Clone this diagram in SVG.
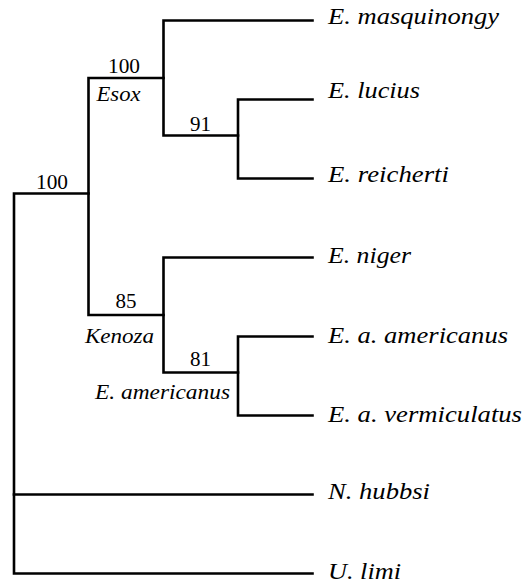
<svg xmlns="http://www.w3.org/2000/svg" width="529" height="584" viewBox="0 0 529 584">
  <style>
    .branch { fill: none; stroke: #000; stroke-width: 2.6; stroke-linecap: square; stroke-linejoin: miter; }
    text { font-family: "Liberation Serif", "Times New Roman", serif; fill: #000; }
    .taxon { font-style: italic; font-size: 23px; }
    .clade { font-style: italic; font-size: 20px; }
    .support { font-size: 20.5px; text-anchor: middle; }
  </style>
  <rect width="529" height="584" fill="#fff"/>

  <!-- tree branches -->
  <g id="connectors">
    <!-- root -->
    <path class="branch" d="M88.5,193.5 H14 V573.5 H312.5"/>
    <path class="branch" d="M14,494.5 H312.5"/>
    <!-- Esox + Kenoza -->
    <path class="branch" d="M163.5,78 H88.5 V315 H163.5"/>
    <!-- Esox -->
    <path class="branch" d="M312.5,20.5 H163.5 V135.5 H238"/>
    <path class="branch" d="M312.5,99.5 H238 V178.5 H312.5"/>
    <!-- Kenoza -->
    <path class="branch" d="M312.5,257.5 H163.5 V372.5 H238"/>
    <path class="branch" d="M312.5,336.5 H238 V415.5 H312.5"/>
  </g>

  <!-- terminal taxa -->
  <g id="E-masquinongy"><text class="taxon" x="328" y="24" textLength="171" lengthAdjust="spacingAndGlyphs">E. masquinongy</text></g>
  <g id="E-lucius"><text class="taxon" x="328" y="97.5" textLength="92" lengthAdjust="spacingAndGlyphs">E. lucius</text></g>
  <g id="E-reicherti"><text class="taxon" x="328" y="182" textLength="121" lengthAdjust="spacingAndGlyphs">E. reicherti</text></g>
  <g id="E-niger"><text class="taxon" x="328" y="263" textLength="83" lengthAdjust="spacingAndGlyphs">E. niger</text></g>
  <g id="E-a-americanus"><text class="taxon" x="328" y="343" textLength="180" lengthAdjust="spacingAndGlyphs">E. a. americanus</text></g>
  <g id="E-a-vermiculatus"><text class="taxon" x="328" y="422" textLength="194" lengthAdjust="spacingAndGlyphs">E. a. vermiculatus</text></g>
  <g id="N-hubbsi"><text class="taxon" x="328" y="499" textLength="102" lengthAdjust="spacingAndGlyphs">N. hubbsi</text></g>
  <g id="U-limi"><text class="taxon" x="328" y="579" textLength="73" lengthAdjust="spacingAndGlyphs">U. limi</text></g>

  <!-- internal nodes: support values and clade names -->
  <g id="node-root"><text class="support" x="52" y="188.5" textLength="32" lengthAdjust="spacingAndGlyphs">100</text></g>
  <g id="node-esox">
    <text class="support" x="124" y="72.5" textLength="32" lengthAdjust="spacingAndGlyphs">100</text>
    <text class="clade" x="96.5" y="100.5" textLength="44" lengthAdjust="spacingAndGlyphs">Esox</text>
  </g>
  <g id="node-lucius-reicherti"><text class="support" x="200.5" y="130.5" textLength="21" lengthAdjust="spacingAndGlyphs">91</text></g>
  <g id="node-kenoza">
    <text class="support" x="126" y="308" textLength="21" lengthAdjust="spacingAndGlyphs">85</text>
    <text class="clade" x="85" y="342.5" textLength="69" lengthAdjust="spacingAndGlyphs">Kenoza</text>
  </g>
  <g id="node-americanus">
    <text class="support" x="200.5" y="365.5" textLength="21" lengthAdjust="spacingAndGlyphs">81</text>
    <text class="clade" x="95" y="399" textLength="135" lengthAdjust="spacingAndGlyphs">E. americanus</text>
  </g>
</svg>
